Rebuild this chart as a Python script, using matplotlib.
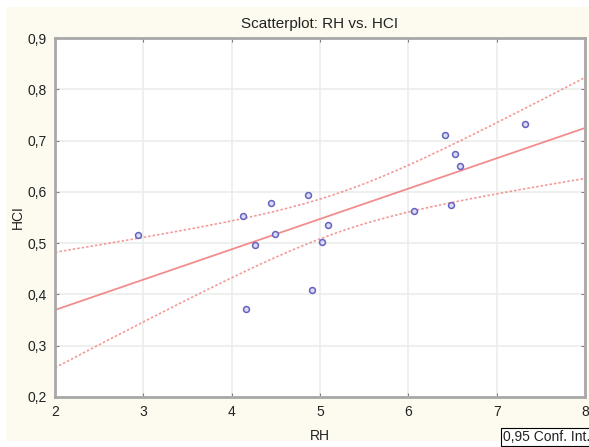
import numpy as np
import matplotlib
matplotlib.use("Agg")
import matplotlib.pyplot as plt
from matplotlib.patches import Rectangle
from matplotlib.ticker import FuncFormatter

# data
rh = [2.94, 4.13, 4.45, 4.26, 4.49, 4.16, 4.86, 4.91, 5.02, 5.09,
      6.06, 6.41, 6.48, 6.53, 6.59, 7.32]
hci = [0.515, 0.552, 0.579, 0.496, 0.517, 0.371, 0.593, 0.408, 0.503, 0.535,
       0.562, 0.710, 0.575, 0.673, 0.651, 0.733]
x_ticks = [2, 3, 4, 5, 6, 7, 8]
y_ticks = [0.2, 0.3, 0.4, 0.5, 0.6, 0.7, 0.8, 0.9]
t_value = 2.145  # t(0.975, df=14)

def comma(v, pos):
    return ('%g' % v).replace('.', ',')

x = np.array(rh)
y = np.array(hci)
n = len(x)
slope, intercept = np.polyfit(x, y, 1)
resid = y - (slope * x + intercept)
s = np.sqrt(np.sum(resid ** 2) / (n - 2))
xs = np.linspace(2, 8, 200)
ys = slope * xs + intercept
se = s * np.sqrt(1 / n + (xs - x.mean()) ** 2 / np.sum((x - x.mean()) ** 2))

plt.rcParams['font.family'] = ['Liberation Sans', 'DejaVu Sans']
fig = plt.figure(figsize=(5.89, 4.47), dpi=100, facecolor='white')
fig.patches.append(Rectangle((6 / 589, 6 / 447), 583 / 589, 434 / 447,
                             transform=fig.transFigure, facecolor='#fdfaf0',
                             edgecolor='none', zorder=-5))
ax = fig.add_axes([55 / 589, 50 / 447, 530 / 589, 359 / 447])
ax.set_facecolor('white')

line_col = '#f07070'
ax.plot(xs, ys, color=line_col, lw=1.3, alpha=0.8)
ax.plot(xs, ys + t_value * se, color=line_col, lw=1.2, ls=(0, (1.5, 1.2)), alpha=0.7)
ax.plot(xs, ys - t_value * se, color=line_col, lw=1.2, ls=(0, (1.5, 1.2)), alpha=0.7)
ax.scatter(x, y, s=18, facecolor='#dcdcf4', edgecolor='#6464c0', linewidths=1.1, zorder=3)

ax.set_xlim(2, 8)
ax.set_ylim(0.2, 0.9)
ax.set_xticks(x_ticks)
ax.set_yticks(y_ticks)
ax.yaxis.set_major_formatter(FuncFormatter(comma))
ax.grid(True, color='#eaedea', lw=1.2)
ax.set_axisbelow(True)
ax.tick_params(direction='in', length=3, color='#808080', labelsize=10,
               top=True, right=True, labelcolor='#222222', pad=6)
for sp in ax.spines.values():
    sp.set_color('#a8a8a8')
    sp.set_linewidth(2)

ax.set_title('Scatterplot: RH vs. HCI', fontsize=11, color='#222222', pad=7)
ax.set_xlabel('RH', fontsize=10, color='#222222')
ax.set_ylabel('HCI', fontsize=10, color='#222222')
ax.xaxis.set_label_coords(0.5, -0.09)
ax.yaxis.set_label_coords(-0.056, 0.5)

fig.text(503 / 589, 10 / 447, '0,95 Conf. Int.', fontsize=10, color='#222222',
         va='center', ha='left',
         bbox=dict(boxstyle='square,pad=0.15', facecolor='white', edgecolor='black', lw=0.8))

fig.savefig('out.png', dpi=100)
